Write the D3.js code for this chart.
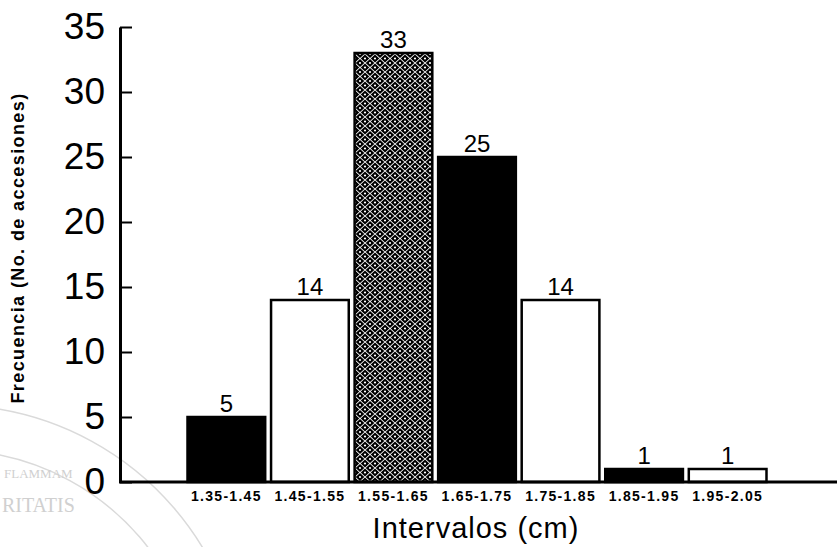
<!DOCTYPE html>
<html><head><meta charset="utf-8">
<script src="https://cdn.jsdelivr.net/npm/d3@7/dist/d3.min.js"></script>
<style>
body{margin:0;background:#fff;}
svg{display:block;}
</style></head>
<body>
<svg id="chart" width="837" height="547"></svg>
<script>
const categories = ["1.35-1.45","1.45-1.55","1.55-1.65","1.65-1.75","1.75-1.85","1.85-1.95","1.95-2.05"];
const values = [5,14,33,25,14,1,1];
const fills = ["black","white","pattern","black","white","black","white"];
const yTicks = [0,5,10,15,20,25,30,35];

const svg = d3.select("#chart");
const W = 837, H = 547;
const x0 = 120, yBase = 482, yTop = 27;

// faint watermark (scan background)
const wm = svg.append("g").attr("fill","none").attr("stroke","#dadada").attr("stroke-width",1.5);
const cx = -50, cy = 700;
const arc = d3.arc();
wm.append("path").attr("transform",`translate(${cx},${cy})`)
  .attr("d", arc({innerRadius:295,outerRadius:295,startAngle:-0.2,endAngle:1.2}));
wm.append("path").attr("transform",`translate(${cx},${cy})`)
  .attr("d", arc({innerRadius:250,outerRadius:250,startAngle:-0.2,endAngle:1.2}));
svg.append("text").attr("x",4).attr("y",478).attr("font-family","Liberation Serif, serif")
  .attr("font-size",13).attr("fill","#d0d0d0").text("FLAMMAM");
svg.append("text").attr("x",2).attr("y",512).attr("font-family","Liberation Serif, serif")
  .attr("font-size",20).attr("fill","#d0d0d0").text("RITATIS");

// pattern
const defs = svg.append("defs");
const pat = defs.append("pattern").attr("id","dots").attr("patternUnits","userSpaceOnUse")
  .attr("width",10).attr("height",9);
pat.append("rect").attr("width",10).attr("height",9).attr("fill","white");
const dia = (px,py)=>{
  pat.append("path").attr("d",`M${px-4.3},${py} L${px},${py-3.9} L${px+4.3},${py} L${px},${py+3.9} Z`).attr("fill","black");
  pat.append("circle").attr("cx",px).attr("cy",py).attr("r",1.1).attr("fill","white");
};
[[0,0],[10,0],[0,9],[10,9],[5,4.5]].forEach(p=>dia(p[0],p[1]));

const x = d3.scaleBand().domain(categories).range([185,769]).paddingInner(0.07).paddingOuter(0.03);
const y = d3.scaleLinear().domain([0,35]).range([yBase,yTop]);

const data = categories.map((c,i)=>({c, v:values[i], f:fills[i]}));

svg.append("g").selectAll("rect").data(data).join("rect")
  .attr("x",d=>x(d.c)).attr("y",d=>y(d.v))
  .attr("width",x.bandwidth()).attr("height",d=>yBase-y(d.v))
  .attr("fill",d=>d.f==="pattern"?"url(#dots)":d.f)
  .attr("stroke","black").attr("stroke-width",2.5);

svg.append("g").selectAll("text").data(data).join("text")
  .attr("x",d=>x(d.c)+x.bandwidth()/2).attr("y",d=>y(d.v)-5)
  .attr("text-anchor","middle").attr("font-family","Liberation Sans, Arial, sans-serif")
  .attr("font-size",24).attr("fill","black").text(d=>d.v);

// y axis
const yAxis = d3.axisLeft(y).tickValues(yTicks).tickSizeInner(-12).tickSizeOuter(0).tickPadding(15);
const gy = svg.append("g").attr("transform",`translate(${x0},0)`).call(yAxis);
gy.select(".domain").attr("stroke","black").attr("stroke-width",3);
gy.selectAll(".tick line").attr("stroke","black").attr("stroke-width",2);
gy.selectAll(".tick text").attr("font-family","Liberation Sans, Arial, sans-serif")
  .attr("font-size",37).attr("fill","black");

// x axis
const xAxis = d3.axisBottom(x).tickSize(0).tickPadding(9);
const gx = svg.append("g").attr("transform",`translate(0,${yBase})`).call(xAxis);
gx.select(".domain").remove();
gx.selectAll(".tick text").attr("font-family","Liberation Sans, Arial, sans-serif")
  .attr("font-size",14).attr("font-weight","bold").attr("letter-spacing",1.3).attr("fill","black");
svg.append("line").attr("x1",x0-1).attr("x2",W).attr("y1",yBase).attr("y2",yBase)
  .attr("stroke","black").attr("stroke-width",3);

// axis titles
svg.append("text").attr("x",476).attr("y",538).attr("text-anchor","middle")
  .attr("font-family","Liberation Sans, Arial, sans-serif").attr("font-size",29)
  .attr("letter-spacing",1).attr("fill","black").text("Intervalos (cm)");
svg.append("text").attr("transform","translate(24,248) rotate(-90)").attr("text-anchor","middle")
  .attr("font-family","Liberation Sans, Arial, sans-serif").attr("font-size",18).attr("font-weight","bold")
  .attr("letter-spacing",1.4).attr("fill","black").text("Frecuencia (No. de accesiones)");
</script>
</body></html>
